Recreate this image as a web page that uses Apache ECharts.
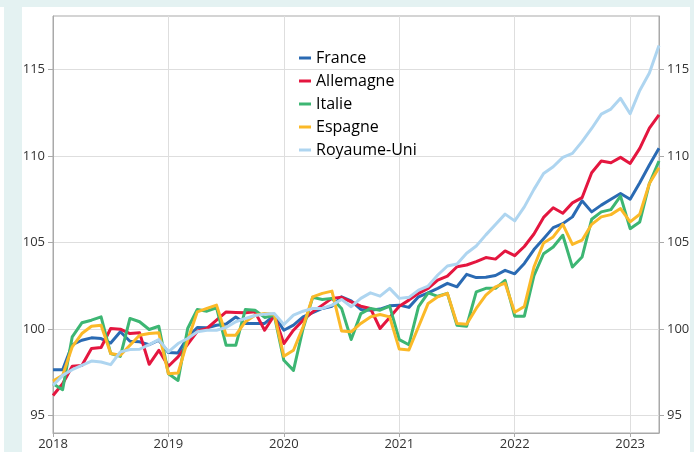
<!DOCTYPE html>
<html>
<head>
<meta charset="utf-8">
<script src="https://cdn.jsdelivr.net/npm/echarts@6/dist/echarts.min.js"></script>
<style>
  html, body { margin: 0; padding: 0; background: #fff; }
  .wrap { position: relative; width: 694px; height: 452px; overflow: hidden; }
  .band { position: absolute; background: #e4f2f2; }
  #chart { position: absolute; left: 0; top: 0; width: 694px; height: 452px; }
</style>
</head>
<body>
<div class="wrap">
  <div class="band" style="left:0;top:0;width:694px;height:7px;"></div>
  <div class="band" style="left:4px;top:0;width:18px;height:452px;"></div>
  <div class="band" style="left:690px;top:0;width:4px;height:452px;"></div>
  <div id="chart"></div>
</div>
<script>
// mois de janvier 2018 à avril 2023
var months = [];
for (var y = 2018; y <= 2023; y++) {
  for (var m = 1; m <= 12; m++) {
    if (y === 2023 && m > 4) break;
    months.push(y + '-' + (m < 10 ? '0' + m : m));
  }
}

var yTicks = [95, 100, 105, 110, 115];

var france = [
  97.66, 97.66, 99.1, 99.36, 99.5, 99.46, 99.2, 99.85, 99.3, 99.27, 99.1, 99.36,
  98.65, 98.63, 99.52, 100.1, 100.08, 100.23, 100.3, 100.7, 100.33, 100.33, 100.33, 100.8,
  99.94, 100.23, 100.71, 100.95, 101.2, 101.33, 101.87, 101.64, 101.14, 101.1, 101.16, 101.35,
  101.39, 101.26, 101.87, 102.1, 102.36, 102.65, 102.45, 103.17, 102.98, 103.0, 103.1, 103.4,
  103.2, 103.8, 104.6, 105.23, 105.87, 106.1, 106.49, 107.42, 106.78, 107.17, 107.51, 107.84,
  107.51, 108.46, 109.49, 110.45
];
var allemagne = [
  96.17, 96.85, 97.86, 97.9, 98.88, 98.94, 100.04, 100.0, 99.75, 99.79, 97.97, 98.78,
  97.86, 98.4, 99.13, 99.88, 100.04, 100.52, 101.0, 100.97, 100.95, 101.0, 99.94, 100.79,
  99.17, 99.94, 100.52, 101.0, 101.39, 101.78, 101.84, 101.58, 101.33, 101.2, 100.04, 100.68,
  101.33, 101.68, 102.07, 102.36, 102.84, 103.07, 103.61, 103.71, 103.9, 104.14, 104.05, 104.52,
  104.25, 104.78, 105.5, 106.46, 107.02, 106.7, 107.3, 107.6, 109.04, 109.72, 109.62, 109.93,
  109.58, 110.45, 111.62, 112.39
];
var italie = [
  96.85, 96.5, 99.56, 100.37, 100.52, 100.71, 98.59, 98.43, 100.62, 100.43, 99.98, 100.17,
  97.43, 97.04, 100.04, 101.14, 101.04, 101.24, 99.07, 99.07, 101.14, 101.1, 100.68, 100.81,
  98.2, 97.62, 100.04, 101.84, 101.72, 101.78, 101.2, 99.4, 100.9, 101.2, 101.1, 101.33,
  99.4, 99.1, 101.3, 102.1, 101.9, 102.07, 100.23, 100.17, 102.16, 102.36, 102.36, 102.82,
  100.75, 100.75, 103.1, 104.36, 104.75, 105.43, 103.59, 104.17, 106.35, 106.78, 106.91, 107.69,
  105.81, 106.2, 108.42, 109.72
];
var espagne = [
  97.0, 97.33, 98.98, 99.75, 100.17, 100.23, 98.59, 98.49, 99.07, 99.65, 99.75, 99.79,
  97.43, 97.47, 99.36, 101.0, 101.2, 101.39, 99.65, 99.65, 100.43, 100.81, 100.91, 100.87,
  98.43, 98.78, 100.14, 101.87, 102.07, 102.2, 99.9, 99.85, 100.33, 100.71, 100.85, 100.71,
  98.85, 98.8, 100.14, 101.49, 101.87, 102.07, 100.33, 100.29, 101.2, 101.97, 102.45, 102.66,
  100.98, 101.31, 103.59, 104.98, 105.33, 106.06, 104.9, 105.14, 106.06, 106.49, 106.62, 106.97,
  106.2, 106.64, 108.42, 109.33
];
var royaumeUni = [
  96.75, 97.33, 97.66, 97.91, 98.16, 98.1, 97.95, 98.69, 98.82, 98.84, 99.11, 99.4,
  98.69, 99.17, 99.46, 99.85, 99.94, 99.94, 100.1, 100.43, 100.62, 100.79, 100.87, 100.91,
  100.27, 100.81, 101.04, 101.2, 101.2, 101.39, 101.72, 101.3, 101.78, 102.1, 101.91, 102.36,
  101.78, 101.84, 102.26, 102.49, 103.13, 103.65, 103.77, 104.39, 104.81, 105.45, 106.05, 106.65,
  106.26, 107.07, 108.08, 109.0, 109.39, 109.93, 110.16, 110.84, 111.6, 112.43, 112.72, 113.34,
  112.45, 113.8, 114.8, 116.39
];

var seriesDefs = [
  { name: 'France', data: france, color: '#2a6ab3' },
  { name: 'Allemagne', data: allemagne, color: '#e4163f' },
  { name: 'Italie', data: italie, color: '#3db673' },
  { name: 'Espagne', data: espagne, color: '#fbb928' },
  { name: 'Royaume-Uni', data: royaumeUni, color: '#aed5f0' }
];

var FONT = "'Open Sans', 'Noto Sans', sans-serif";
var isYear = function (idx) { return idx % 12 === 0; };

var yAxisBase = function (pos) {
  return {
    type: 'value',
    position: pos,
    min: 94,
    max: 118.1,
    axisLine: { show: true, lineStyle: { color: '#a9a9a9', width: 1 } },
    axisTick: { show: true, length: 5, customValues: yTicks, lineStyle: { color: '#a9a9a9' } },
    axisLabel: { customValues: yTicks, margin: 8, color: '#333', fontSize: 13, fontFamily: FONT },
    splitLine: { show: pos === 'left', lineStyle: { color: '#dedede', width: 1 } }
  };
};

var chart = echarts.init(document.getElementById('chart'));
chart.setOption({
  animation: false,
  grid: { left: 53, right: 35, top: 16, bottom: 19, show: true, borderColor: '#a9a9a9', borderWidth: 1, outerBoundsMode: 'none' },
  legend: {
    orient: 'vertical',
    left: 294,
    top: 45,
    icon: 'rect',
    itemWidth: 12,
    itemHeight: 3,
    itemGap: 7,
    textStyle: { fontSize: 16, color: '#000', fontFamily: FONT },
    data: seriesDefs.map(function (s) { return s.name; })
  },
  xAxis: {
    type: 'category',
    boundaryGap: false,
    data: months,
    axisLine: { lineStyle: { color: '#a9a9a9' } },
    axisTick: { show: true, length: 4, interval: function (i) { return isYear(i); }, lineStyle: { color: '#a9a9a9' } },
    axisLabel: {
      interval: function (i) { return isYear(i); },
      formatter: function (v) { return v.slice(0, 4); },
      margin: 5,
      color: '#333',
      fontSize: 13,
      fontFamily: FONT
    },
    splitLine: { show: true, interval: function (i) { return isYear(i); }, lineStyle: { color: '#dedede', width: 1 } }
  },
  yAxis: [yAxisBase('left'), yAxisBase('right')],
  series: seriesDefs.map(function (s) {
    return {
      name: s.name,
      type: 'line',
      data: s.data,
      showSymbol: false,
      symbol: 'none',
      color: s.color,
      lineStyle: { width: 3, color: s.color, join: 'round' }
    };
  })
});
</script>
</body>
</html>
